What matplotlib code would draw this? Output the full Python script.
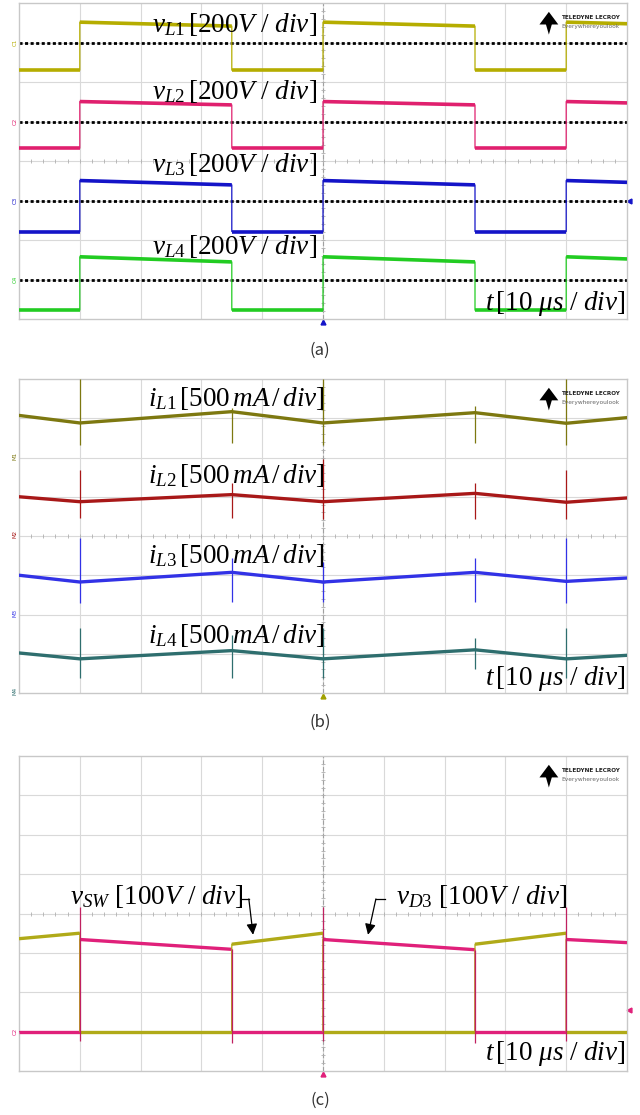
import numpy as np
import matplotlib.pyplot as plt

plt.rcParams['mathtext.fontset'] = 'custom'
plt.rcParams['mathtext.rm'] = 'Liberation Serif'
plt.rcParams['mathtext.it'] = 'Liberation Serif:italic'
plt.rcParams['mathtext.bf'] = 'Liberation Serif:bold'

# time axis in us (10 us/div, 10 divisions)
t_sq = [0, 10, 10, 35, 35, 50, 50, 75, 75, 90, 90, 100]
t_tri = [0, 10, 35, 50, 75, 90, 100]
edge_t = [10, 35, 50, 75, 90]

# (a) inductor voltages [V], 200 V/div
vL1 = [-140, -140, 103, 83, -140, -140, 103, 83, -140, -140, 103, 95]
vL2 = [-135, -135, 101, 84, -135, -135, 101, 84, -135, -135, 101, 94]
vL3 = [-157, -157, 101, 79, -157, -157, 101, 79, -157, -157, 101, 92]
vL4 = [-155, -155, 115, 89, -155, -155, 115, 89, -155, -155, 115, 104]

# (b) inductor currents [mA], 500 mA/div
iL1 = [536, 440, 584, 440, 571, 436, 508]
iL2 = [500, 437, 527, 437, 543, 430, 485]
iL3 = [500, 414, 537, 414, 537, 422, 465]
iL4 = [510, 435, 540, 435, 550, 435, 480]
# switching spikes on the currents (top, bottom) [mA]
iL1_spk_hi = [1000, 635, 1000, 650, 1000]
iL1_spk_lo = [165, 185, 165, 185, 165]
iL2_spk_hi = [845, 675, 975, 675, 845]
iL2_spk_lo = [230, 230, 220, 220, 220]
iL3_spk_hi = [970, 715, 675, 715, 970]
iL3_spk_lo = [145, 165, 165, 165, 145]
iL4_spk_hi = [830, 745, 830, 700, 830]
iL4_spk_lo = [190, 190, 190, 300, 190]

# (c) switch and diode voltages [V], 100 V/div
vSW = [236, 250, 0, 0, 222, 250, 0, 0, 222, 250, 0, 0]
vD3 = [0, 0, 234, 209, 0, 0, 234, 208, 0, 0, 234, 226]
vD3_spk_hi = [317, 209, 317, 208, 317]
vD3_spk_lo = [-25, -30, -25, -30, -25]

W, H = 640, 1115
fig = plt.figure(figsize=(W / 100, H / 100), dpi=100)


def make_ax(x0, y0, x1, y1):
    # pixel box -> figure fractions
    return fig.add_axes([x0 / W, 1 - y1 / H, (x1 - x0) / W, (y1 - y0) / H])


def scope(ax):
    ax.set_xlim(0, 100)
    ax.set_ylim(0, 8)
    ax.set_xticks([])
    ax.set_yticks([])
    for s in ax.spines.values():
        s.set_color('#c8c8c8')
        s.set_linewidth(1.0)
    for k in range(1, 10):
        ax.axvline(k * 10, color='#d9d9d9', lw=0.8, zorder=0)
    for k in range(1, 8):
        ax.axhline(k, color='#d9d9d9', lw=0.8, zorder=0)
    ax.axvline(50, color='#a0a0a0', lw=0.8, ls=(0, (4, 2)), zorder=0)
    ax.plot(np.arange(0, 100.1, 2), [4] * 51, ls='none', marker='|',
            ms=3, color='#b0b0b0', mew=0.6, zorder=0)
    ax.plot([50] * 41, np.arange(0, 8.01, 0.2), ls='none', marker='_',
            ms=3, color='#b0b0b0', mew=0.6, zorder=0)
    # logo
    ax.fill([0.856, 0.8715, 0.887], [0.932, 0.972, 0.932], color='k',
            transform=ax.transAxes, zorder=5, lw=0)
    ax.fill([0.864, 0.879, 0.8715], [0.95, 0.95, 0.9], color='k',
            transform=ax.transAxes, zorder=5, lw=0)
    ax.text(0.892, 0.953, 'TELEDYNE LECROY', transform=ax.transAxes,
            fontsize=4.6, fontweight='bold', color='#222222',
            fontstretch='condensed', va='center', ha='left', zorder=5)
    ax.text(0.892, 0.925, 'Everywhereyoulook', transform=ax.transAxes,
            fontsize=4.2, color='#666666', va='center', ha='left', zorder=5)


def square(ax, t, v, ref, scale, c, lw, z=3):
    y = np.array(v) / scale + ref
    # thin switching edges, thick flat parts
    ax.plot(t, y, color=c, lw=0.9, zorder=z)
    for k in range(0, len(t), 2):
        ax.plot(t[k:k + 2], y[k:k + 2], color=c, lw=lw, zorder=z,
                solid_capstyle='butt')


def label(ax, x, y, s, ha='left'):
    ax.text(x, y, s, fontsize=19.5, ha=ha, va='center', zorder=6)


def chan_tag(ax, y, s, c):
    ax.text(-0.6, y, s, fontsize=4, color=c, rotation=90, ha='center',
            va='center', clip_on=False)


t_text = r'$t\,[10\ \mu s\ /\ div]$'

# ---------------- (a) ----------------
ax = make_ax(19, 3, 627, 319)
scope(ax)
traces_a = [(vL1, 7, '#b5ad00', 'C1'), (vL2, 5, '#e0206e', 'C2'),
            (vL3, 3, '#1414c8', 'C3'), (vL4, 1, '#22cc22', 'C4')]
for v, ref, c, tag in traces_a:
    ax.axhline(ref, color='k', lw=2.0, ls=(0, (1.1, 0.9)), zorder=2)
    square(ax, t_sq, v, ref, 200, c, 2.6)
    chan_tag(ax, ref, tag, c)
label(ax, 21.9, 7.45, r'$v_{L1}\,[200V\ /\ div]$')
label(ax, 21.9, 5.76, r'$v_{L2}\,[200V\ /\ div]$')
label(ax, 21.9, 3.91, r'$v_{L3}\,[200V\ /\ div]$')
label(ax, 21.9, 1.83, r'$v_{L4}\,[200V\ /\ div]$')
label(ax, 99.8, 0.40, t_text, ha='right')
ax.plot(50, -0.08, marker='^', color='#1414c8', ms=3.5, clip_on=False)
ax.plot(100.3, 3, marker='<', color='#1414c8', ms=3.5, clip_on=False)
fig.text(0.5, 1 - 350 / H, '(a)', ha='center', va='center', fontsize=12,
         family='Noto Sans CJK KR', color='#333333')

# ---------------- (b) ----------------
ax = make_ax(19, 379, 627, 693)
scope(ax)
traces_b = [(iL1, iL1_spk_hi, iL1_spk_lo, 6, '#7d7810', 'M1'),
            (iL2, iL2_spk_hi, iL2_spk_lo, 4, '#a81818', 'M2'),
            (iL3, iL3_spk_hi, iL3_spk_lo, 2, '#3232e6', 'M3'),
            (iL4, iL4_spk_hi, iL4_spk_lo, 0, '#2e6e6e', 'M4')]
for i, hi, lo, ref, c, tag in traces_b:
    ax.plot(t_tri, np.array(i) / 500 + ref, color=c, lw=2.4, zorder=3)
    ax.vlines(edge_t, np.array(lo) / 500 + ref, np.array(hi) / 500 + ref,
              color=c, lw=0.9, zorder=3)
    chan_tag(ax, ref + 0.05, tag, c)
label(ax, 21.2, 7.50, r'$i_{L1}\,[500\,mA\,/\,div]$')
label(ax, 21.2, 5.53, r'$i_{L2}\,[500\,mA\,/\,div]$')
label(ax, 21.2, 3.50, r'$i_{L3}\,[500\,mA\,/\,div]$')
label(ax, 21.2, 1.46, r'$i_{L4}\,[500\,mA\,/\,div]$')
label(ax, 99.8, 0.36, t_text, ha='right')
ax.plot(50, -0.08, marker='^', color='#a0a000', ms=3.5, clip_on=False)
fig.text(0.5, 1 - 722 / H, '(b)', ha='center', va='center', fontsize=12,
         family='Noto Sans CJK KR', color='#333333')

# ---------------- (c) ----------------
ax = make_ax(19, 756, 627, 1071)
scope(ax)
ref_c = 1
square(ax, t_sq, vD3, ref_c, 100, '#e0207a', 2.4, z=3)
square(ax, t_sq, vSW, ref_c, 100, '#b0aa18', 2.4, z=4)
ax.vlines(edge_t, np.array(vD3_spk_lo) / 100 + ref_c,
          np.array(vD3_spk_hi) / 100 + ref_c, color='#c02060', lw=0.9, zorder=4)
chan_tag(ax, ref_c, 'C2', '#e0207a')
label(ax, 8.4, 4.43, r'$v_{SW}\ [100V\ /\ div]$')
label(ax, 62.0, 4.43, r'$v_{D3}\ [100V\ /\ div]$')
ax.plot([36.6, 37.8], [4.37, 4.37], color='k', lw=0.9)
ax.annotate('', xy=(38.5, 3.46), xytext=(37.8, 4.37),
            arrowprops=dict(arrowstyle='-|>', color='k', lw=0.9,
                            mutation_scale=16, shrinkA=0, shrinkB=0))
ax.plot([58.7, 60.2], [4.37, 4.37], color='k', lw=0.9)
ax.annotate('', xy=(57.4, 3.46), xytext=(58.7, 4.37),
            arrowprops=dict(arrowstyle='-|>', color='k', lw=0.9,
                            mutation_scale=16, shrinkA=0, shrinkB=0))
label(ax, 99.8, 0.44, t_text, ha='right')
ax.plot(50, -0.08, marker='^', color='#e0207a', ms=3.5, clip_on=False)
ax.plot(100.3, 1.55, marker='<', color='#e0207a', ms=3.5, clip_on=False)
fig.text(0.5, 1 - 1100 / H, '(c)', ha='center', va='center', fontsize=12,
         family='Noto Sans CJK KR', color='#333333')

fig.savefig('out.png', dpi=100)
